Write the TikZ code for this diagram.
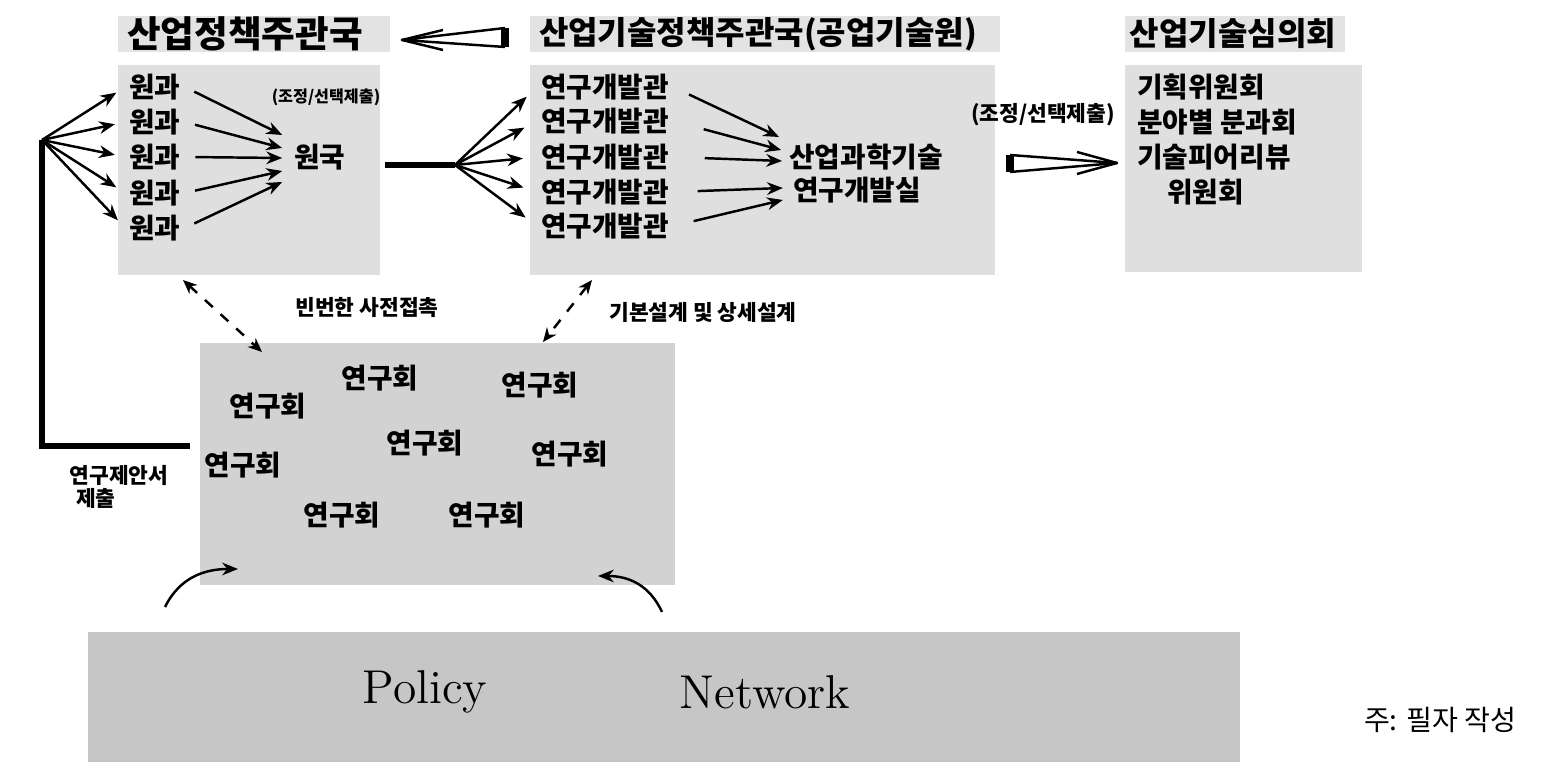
\documentclass[tikz,border=0pt]{standalone}
\usepackage{fontspec}
\newfontfamily\kr{Noto Sans CJK KR}
\usetikzlibrary{arrows.meta,calc}

\begin{document}
\begin{tikzpicture}[x=0.01cm,y=-0.01cm,
  every node/.style={inner sep=1pt},
  kor/.style={font=\kr\bfseries\fontsize{7.9}{9}\selectfont},
  head/.style={font=\kr\bfseries\fontsize{9.1}{10}\selectfont},
  note/.style={font=\kr\bfseries\fontsize{6.1}{7}\selectfont},
  arr/.style={-{Stealth[length=4.5pt,width=3.6pt]},line width=0.7pt},
  link/.style={{Stealth[length=4pt,width=3.4pt]}-{Stealth[length=4pt,width=3.4pt]},
    dashed,line width=0.7pt},
  bar/.style={line width=1.6pt},
  wedge/.style={line width=0.7pt,line join=round}]
\useasboundingbox (0,0) rectangle (1547,762);

% shaded panels
\fill[gray!22] (118,16) rectangle (390,52);
\fill[gray!22] (530,16) rectangle (1000,52);
\fill[gray!22] (1125,16) rectangle (1345,52);
\fill[gray!25] (118,65) rectangle (380,275);
\fill[gray!25] (530,65) rectangle (995,275);
\fill[gray!25] (1125,65) rectangle (1362,272);
\fill[gray!35] (200,343) rectangle (675,585);
\fill[gray!45] (88,632) rectangle (1240,762);

% headers
\node[head,font=\kr\bfseries\fontsize{10.4}{11}\selectfont] (hdA) at (245,34) {산업정책주관국};
\node[head] (hdB) at (758,34) {산업기술정책주관국(공업기술원)};
\node[head] (hdC) at (1233,34) {산업기술심의회};

% first panel
\foreach \i/\y in {1/87,2/122,3/157,4/193,5/228}
  \node[kor] (gwa\i) at (155,\y) {원과};
\node[kor] (guk) at (320,157) {원국};
\node[note,font=\kr\bfseries\fontsize{4.6}{6}\selectfont] (adjA) at (326,97) {(조정/선택제출)};

% second panel
\foreach \i/\y in {1/87,2/121,3/157,4/192,5/226}
  \node[kor] (gwan\i) at (605,\y) {연구개발관};
\node[kor] (sanup) at (866,157) {산업과학기술};
\node[kor] (gaebal) at (857,190) {연구개발실};
\node[note] (adjB) at (1043,115) {(조정/선택제출)};

% third panel
\node[kor,anchor=west] (wiA) at (1133,87) {기획위원회};
\node[kor,anchor=west] (wiB) at (1133,122) {분야별 분과회};
\node[kor,anchor=west] (wiC) at (1133,157) {기술피어리뷰};
\node[kor,anchor=west] (wiD) at (1163,192) {위원회};

% study groups
\node[kor] (yh1) at (380,378) {연구회};
\node[kor] (yh2) at (540,385) {연구회};
\node[kor] (yh3) at (268,406) {연구회};
\node[kor] (yh4) at (425,443) {연구회};
\node[kor] (yh5) at (570,454) {연구회};
\node[kor] (yh6) at (243,465) {연구회};
\node[kor] (yh7) at (342,515) {연구회};
\node[kor] (yh8) at (487,515) {연구회};

% labels
\node[note] (lkA) at (367,307) {빈번한 사전접촉};
\node[note] (lkB) at (703,312) {기본설계 및 상세설계};
\node[note] (prA) at (119,475) {연구제안서};
\node[note] (prB) at (96,498) {제출};
\node[font=\fontsize{13.5}{16}\selectfont] (pol) at (425,692) {Policy};
\node[font=\fontsize{13.5}{16}\selectfont] (net) at (765,692) {Network};
\node[font=\kr\fontsize{8}{9}\selectfont] (src) at (1440,720) {주: 필자 작성};

% fans
\coordinate (fanL) at (42,140);
\coordinate (stem) at (385,165);
\coordinate (hub) at (455,165);
\foreach \i in {1,...,5}
  \draw[arr,shorten >=3pt] (fanL) -- (gwa\i.west);
\foreach \i/\dy in {1/-22,2/-9,3/1,4/14,5/25}
  \draw[arr,shorten <=3pt] (gwa\i.east) -- ($(guk.west)+(-8,\dy)$);
\draw[bar] (stem) -- (hub);
\foreach \i in {1,...,5}
  \draw[arr,shorten >=4pt] (hub) -- (gwan\i.west);
\draw[arr,shorten <=5pt] (gwan1.east) -- ($(sanup.west)+(-6,-20)$);
\draw[arr,shorten <=9pt] (gwan2.east) -- ($(sanup.west)+(-4,-7)$);
\draw[arr,shorten <=9pt] (gwan3.east) -- ($(sanup.west)+(-3,4)$);
\draw[arr,shorten <=7pt] (gwan4.east) -- ($(gaebal.west)+(-6,-2)$);
\draw[arr,shorten <=6pt] (gwan5.east) -- ($(gaebal.west)+(-6,10)$);

% hollow wedge arrows
\coordinate (wA) at (402,40);
\coordinate (wB) at (1117,163);
\draw[wedge] (505,28) -- (wA) -- (505,47);
\draw[line width=2pt] (505,28) -- (505,47);
\draw[wedge] (443,30) -- (wA) -- (443,50);
\draw[wedge] (1010,155) -- (wB) -- (1010,172);
\draw[line width=2pt] (1010,155) -- (1010,172);
\draw[wedge] (1077,152) -- (wB) -- (1077,174);

% contacts
\draw[link] (183,280) -- (262,352);
\draw[link] (592,280) -- (543,342);
\draw[bar] (190,446) -| (fanL);
\draw[arr] (165,607) .. controls (180,577) and (205,569) .. (238,569);
\draw[arr] (662,612) .. controls (650,586) and (630,576) .. (598,576);
\end{tikzpicture}
\end{document}
